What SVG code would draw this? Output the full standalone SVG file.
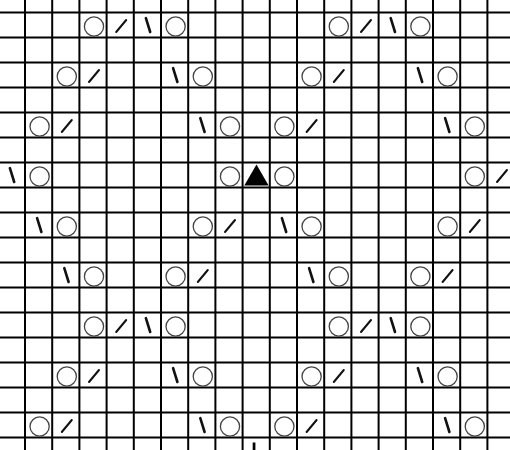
<svg xmlns="http://www.w3.org/2000/svg" xmlns:xlink="http://www.w3.org/1999/xlink" width="510" height="450" viewBox="0 0 510 450">
<style>
.g line{stroke:#000;stroke-width:2}
.o{fill:none;stroke:#444;stroke-width:1.3}
.s{stroke:#111;stroke-width:2;stroke-linecap:round}
.b{stroke:#111;stroke-width:2.6;stroke-linecap:round}
</style>
<defs>
<circle id="o" class="o" cx="1" cy="1.5" r="9.6"/>
<line id="k" class="s" x1="-4" y1="7" x2="6" y2="-5"/>
<line id="b" class="b" x1="-1.5" y1="-6.8" x2="2.8" y2="7"/>
</defs>
<rect width="510" height="450" fill="#fff"/>
<g id="grid" class="g">
<line x1="25" y1="0" x2="25" y2="450"/>
<line x1="52.2" y1="0" x2="52.2" y2="450"/>
<line x1="79.4" y1="0" x2="79.4" y2="450"/>
<line x1="106.6" y1="0" x2="106.6" y2="450"/>
<line x1="133.8" y1="0" x2="133.8" y2="450"/>
<line x1="161" y1="0" x2="161" y2="450"/>
<line x1="188.2" y1="0" x2="188.2" y2="450"/>
<line x1="215.4" y1="0" x2="215.4" y2="450"/>
<line x1="242.6" y1="0" x2="242.6" y2="450"/>
<line x1="269.8" y1="0" x2="269.8" y2="450"/>
<line x1="297" y1="0" x2="297" y2="450"/>
<line x1="324.2" y1="0" x2="324.2" y2="450"/>
<line x1="351.4" y1="0" x2="351.4" y2="450"/>
<line x1="378.6" y1="0" x2="378.6" y2="450"/>
<line x1="405.8" y1="0" x2="405.8" y2="450"/>
<line x1="433" y1="0" x2="433" y2="450"/>
<line x1="460.2" y1="0" x2="460.2" y2="450"/>
<line x1="487.4" y1="0" x2="487.4" y2="450"/>
<line x1="0" y1="12.5" x2="510" y2="12.5"/>
<line x1="0" y1="37.5" x2="510" y2="37.5"/>
<line x1="0" y1="62.5" x2="510" y2="62.5"/>
<line x1="0" y1="87.5" x2="510" y2="87.5"/>
<line x1="0" y1="112.5" x2="510" y2="112.5"/>
<line x1="0" y1="137.5" x2="510" y2="137.5"/>
<line x1="0" y1="162.5" x2="510" y2="162.5"/>
<line x1="0" y1="187.5" x2="510" y2="187.5"/>
<line x1="0" y1="212.5" x2="510" y2="212.5"/>
<line x1="0" y1="237.5" x2="510" y2="237.5"/>
<line x1="0" y1="262.5" x2="510" y2="262.5"/>
<line x1="0" y1="287.5" x2="510" y2="287.5"/>
<line x1="0" y1="312.5" x2="510" y2="312.5"/>
<line x1="0" y1="337.5" x2="510" y2="337.5"/>
<line x1="0" y1="362.5" x2="510" y2="362.5"/>
<line x1="0" y1="387.5" x2="510" y2="387.5"/>
<line x1="0" y1="412.5" x2="510" y2="412.5"/>
<line x1="0" y1="437.5" x2="510" y2="437.5"/>
</g>
<g id="row-25">
<use href="#o" x="93" y="25"/><use href="#k" x="120.2" y="25"/><use href="#b" x="147.4" y="25"/><use href="#o" x="174.6" y="25"/>
<use href="#o" x="337.8" y="25"/><use href="#k" x="365" y="25"/><use href="#b" x="392.2" y="25"/><use href="#o" x="419.4" y="25"/>
</g>
<g id="row-75">
<use href="#o" x="65.8" y="75"/><use href="#k" x="93" y="75"/><use href="#b" x="174.6" y="75"/><use href="#o" x="201.8" y="75"/>
<use href="#o" x="310.6" y="75"/><use href="#k" x="337.8" y="75"/><use href="#b" x="419.4" y="75"/><use href="#o" x="446.6" y="75"/>
</g>
<g id="row-125">
<use href="#o" x="38.6" y="125"/><use href="#k" x="65.8" y="125"/><use href="#b" x="201.8" y="125"/><use href="#o" x="229" y="125"/>
<use href="#o" x="283.4" y="125"/><use href="#k" x="310.6" y="125"/><use href="#b" x="446.6" y="125"/><use href="#o" x="473.8" y="125"/>
</g>
<g id="row-175">
<use href="#b" x="11.4" y="175"/><use href="#o" x="38.6" y="175"/><use href="#o" x="229" y="175"/>
<polygon id="triangle" points="244.3,185.5 256.5,164.5 268.6,185.5" fill="#000"/>
<use href="#o" x="283.4" y="175"/><use href="#o" x="473.8" y="175"/><use href="#k" x="501" y="175"/>
</g>
<g id="row-225">
<use href="#b" x="38.6" y="225"/><use href="#o" x="65.8" y="225"/><use href="#o" x="201.8" y="225"/><use href="#k" x="229" y="225"/>
<use href="#b" x="283.4" y="225"/><use href="#o" x="310.6" y="225"/><use href="#o" x="446.6" y="225"/><use href="#k" x="473.8" y="225"/>
</g>
<g id="row-275">
<use href="#b" x="65.8" y="275"/><use href="#o" x="93" y="275"/><use href="#o" x="174.6" y="275"/><use href="#k" x="201.8" y="275"/>
<use href="#b" x="310.6" y="275"/><use href="#o" x="337.8" y="275"/><use href="#o" x="419.4" y="275"/><use href="#k" x="446.6" y="275"/>
</g>
<g id="row-325">
<use href="#o" x="93" y="325"/><use href="#k" x="120.2" y="325"/><use href="#b" x="147.4" y="325"/><use href="#o" x="174.6" y="325"/>
<use href="#o" x="337.8" y="325"/><use href="#k" x="365" y="325"/><use href="#b" x="392.2" y="325"/><use href="#o" x="419.4" y="325"/>
</g>
<g id="row-375">
<use href="#o" x="65.8" y="375"/><use href="#k" x="93" y="375"/><use href="#b" x="174.6" y="375"/><use href="#o" x="201.8" y="375"/>
<use href="#o" x="310.6" y="375"/><use href="#k" x="337.8" y="375"/><use href="#b" x="419.4" y="375"/><use href="#o" x="446.6" y="375"/>
</g>
<g id="row-425">
<use href="#o" x="38.6" y="425"/><use href="#k" x="65.8" y="425"/><use href="#b" x="201.8" y="425"/><use href="#o" x="229" y="425"/>
<use href="#o" x="283.4" y="425"/><use href="#k" x="310.6" y="425"/><use href="#b" x="446.6" y="425"/><use href="#o" x="473.8" y="425"/>
</g>
<g id="row-450">
<rect x="252.7" y="442.5" width="2.7" height="8" fill="#000"/>
</g>
</svg>
